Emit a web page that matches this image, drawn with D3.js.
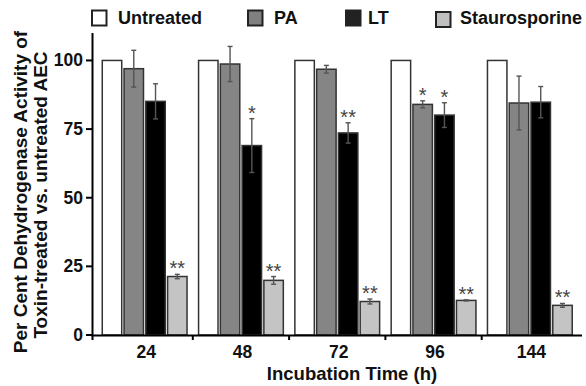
<!DOCTYPE html>
<html><head><meta charset="utf-8">
<script src="https://cdn.jsdelivr.net/npm/d3@7"></script>
<style>body{margin:0;background:#fff}svg{display:block}text{font-family:"Liberation Sans",Arial,sans-serif;font-weight:bold}</style>
</head><body>
<svg id="c" width="586" height="386"></svg>
<script>
const categories = ["24", "48", "72", "96", "144"];
const seriesNames = ["Untreated", "PA", "LT", "Staurosporine"];
const untreated = [100, 100, 100, 100, 100];
const untreatedErr = [0, 0, 0, 0, 0];
const pa = [97.0, 98.7, 96.8, 84.0, 84.5];
const paErr = [6.7, 6.4, 1.4, 1.3, 9.8];
const lt = [85.1, 69.0, 73.6, 80.1, 84.8];
const ltErr = [6.4, 9.8, 3.7, 4.5, 5.7];
const stauro = [21.3, 19.9, 12.2, 12.6, 10.8];
const stauroErr = [0.8, 1.4, 0.9, 0.2, 0.7];
const yTicks = [0, 25, 50, 75, 100];
const signif = [
  ["24", "Staurosporine", "**"],
  ["48", "LT", "*"], ["48", "Staurosporine", "**"],
  ["72", "LT", "**"], ["72", "Staurosporine", "**"],
  ["96", "PA", "*"], ["96", "LT", "*"], ["96", "Staurosporine", "**"],
  ["144", "Staurosporine", "**"]
];

const values = {Untreated: untreated, PA: pa, LT: lt, Staurosporine: stauro};
const errs = {Untreated: untreatedErr, PA: paErr, LT: ltErr, Staurosporine: stauroErr};
const fills = {Untreated: "#ffffff", PA: "#858585", LT: "#000000", Staurosporine: "#c4c4c4"};
const legendFills = {Untreated: "#ffffff", PA: "#808080", LT: "#222222", Staurosporine: "#c0c0c0"};

const svg = d3.select("#c");
const y = d3.scaleLinear().domain([0, 110]).range([335, 33]);
const x = d3.scaleBand().domain(categories).range([96.5, 578]).padding(0);
const xi = d3.scaleBand().domain(seriesNames).range([0, x.bandwidth()]).paddingInner(0.106).paddingOuter(0.265);

const rows = [];
categories.forEach((c, i) => seriesNames.forEach(s => rows.push({c, s, v: values[s][i], e: errs[s][i]})));

// bars
svg.append("g").selectAll("rect").data(rows).join("rect")
  .attr("x", d => x(d.c) + xi(d.s))
  .attr("width", xi.bandwidth())
  .attr("y", d => y(d.v))
  .attr("height", d => y(0) - y(d.v))
  .attr("fill", d => fills[d.s])
  .attr("stroke", "#333")
  .attr("stroke-width", 1.5);

// error bars
const eb = svg.append("g").attr("stroke", "#555").attr("stroke-width", 1.4);
rows.filter(d => d.e > 0).forEach(d => {
  const cx = x(d.c) + xi(d.s) + xi.bandwidth() / 2;
  eb.append("line").attr("x1", cx).attr("x2", cx).attr("y1", y(d.v + d.e)).attr("y2", y(d.v - d.e));
  eb.append("line").attr("x1", cx - 2.5).attr("x2", cx + 2.5).attr("y1", y(d.v + d.e)).attr("y2", y(d.v + d.e));
  eb.append("line").attr("x1", cx - 2.5).attr("x2", cx + 2.5).attr("y1", y(d.v - d.e)).attr("y2", y(d.v - d.e));
});

// significance stars
svg.append("g").selectAll("text").data(signif).join("text")
  .attr("x", d => x(d[0]) + xi(d[1]) + xi.bandwidth() / 2)
  .attr("y", d => {
    const i = categories.indexOf(d[0]);
    return y(values[d[1]][i] + errs[d[1]][i]) + 1;
  })
  .attr("text-anchor", "middle")
  .attr("font-size", 20)
  .style("font-weight", "normal")
  .attr("fill", "#444")
  .text(d => d[2]);

// axes
svg.append("line").attr("x1", 92.5).attr("x2", 92.5).attr("y1", y(110)).attr("y2", 340)
  .attr("stroke", "#000").attr("stroke-width", 2);
svg.append("line").attr("x1", 91.5).attr("x2", 582).attr("y1", 335.5).attr("y2", 335.5)
  .attr("stroke", "#000").attr("stroke-width", 2);

const yg = svg.append("g");
yTicks.forEach(t => {
  yg.append("line").attr("x1", 86).attr("x2", 92.5).attr("y1", y(t)).attr("y2", y(t)).attr("stroke", "#000").attr("stroke-width", 2);
  yg.append("text").attr("x", 83).attr("y", y(t) + 6).attr("text-anchor", "end").attr("font-size", 17.5).attr("fill", "#111").text(t);
});

const xg = svg.append("g");
categories.slice(0, -1).forEach(c => {
  const bx = x(c) + x.bandwidth();
  xg.append("line").attr("x1", bx).attr("x2", bx).attr("y1", 335.5).attr("y2", 340).attr("stroke", "#000").attr("stroke-width", 2);
});
categories.forEach(c => {
  xg.append("text").attr("x", x(c) + x.bandwidth() / 2 + 1.5).attr("y", 358).attr("text-anchor", "middle")
    .attr("font-size", 17.5).attr("fill", "#111").text(c);
});

svg.append("text").attr("x", 352).attr("y", 380).attr("text-anchor", "middle").attr("font-size", 18.5).attr("fill", "#111")
  .text("Incubation Time (h)");

svg.append("text").attr("transform", "translate(27,192) rotate(-90)").attr("text-anchor", "middle")
  .attr("font-size", 19).attr("fill", "#111").text("Per Cent Dehydrogenase Activity of");
svg.append("text").attr("transform", "translate(47,195) rotate(-90)").attr("text-anchor", "middle")
  .attr("font-size", 19).attr("fill", "#111").text("Toxin-treated vs. untreated AEC");

// legend
const legendPos = [[92, 118, 10.5], [248, 274, 10.5], [346, 368, 10.5], [436, 460, 12]];
seriesNames.forEach((s, i) => {
  const [bx, tx, by] = legendPos[i];
  svg.append("rect").attr("x", bx).attr("y", by).attr("width", 14.5).attr("height", 15)
    .attr("fill", legendFills[s]).attr("stroke", "#222").attr("stroke-width", 2);
  svg.append("text").attr("x", tx).attr("y", 24).attr("font-size", 18).attr("fill", "#111").text(s);
});
</script>
</body></html>
